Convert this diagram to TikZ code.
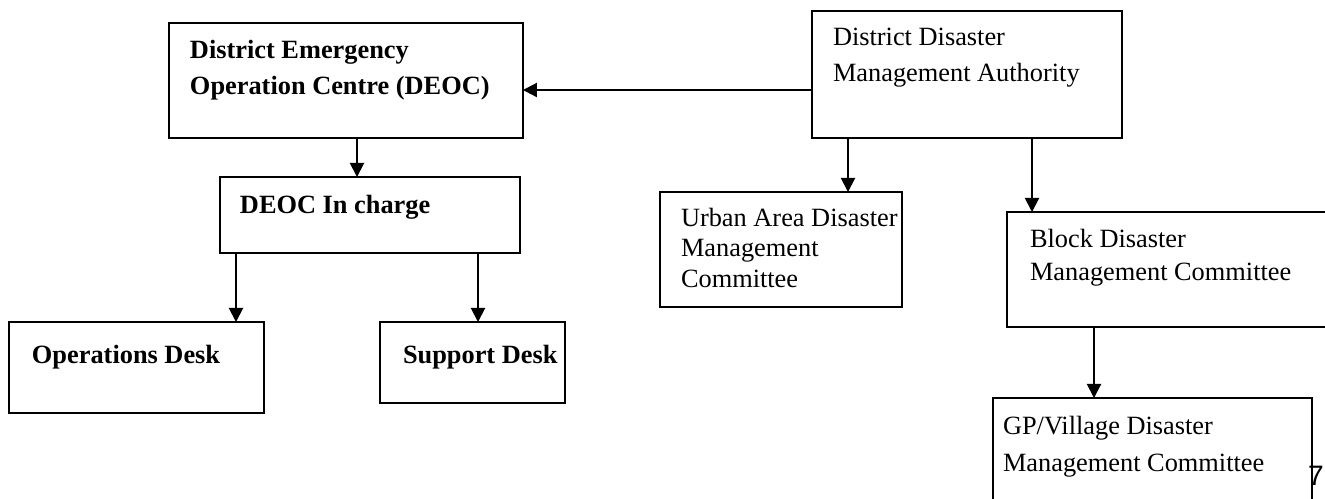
\documentclass[tikz,border=0pt]{standalone}
\usepackage{fontspec}
\setmainfont{Liberation Serif}
\newfontfamily\pagenumfont{Liberation Sans}
\usetikzlibrary{arrows.meta}

% box text: width, height, left pad, first baseline, line skip, text
\newcommand{\boxtext}[6]{\parbox[c][#2][t]{#1}{\raggedright\leftskip=#3\relax
\fontsize{15}{#5}\selectfont\rule{0pt}{#4}\ignorespaces#6\par}}

\begin{document}
\begin{tikzpicture}[x=0.02cm,y=-0.02cm,>={Triangle[length=8pt,width=8pt]},
line width=1.1pt,
chart box/.style={rectangle,draw,anchor=north west,inner sep=0pt,outer sep=0pt}]
\useasboundingbox (0,0) rectangle (1325,498);
\node[chart box] (deoc) at (169,23)
  {\boxtext{7.08cm}{2.3cm}{0.42cm}{0.72cm}{0.72cm}{\bfseries District Emergency\\ Operation Centre (DEOC)}};
\node[chart box] (ddma) at (812,11)
  {\boxtext{6.2cm}{2.54cm}{0.42cm}{0.68cm}{0.74cm}{District Disaster\\ Management Authority}};
\node[chart box] (incharge) at (220,177)
  {\boxtext{6.0cm}{1.52cm}{0.4cm}{0.72cm}{0.72cm}{\bfseries DEOC In charge}};
\node[chart box] (ops) at (9,322)
  {\boxtext{5.1cm}{1.82cm}{0.46cm}{0.82cm}{0.72cm}{\bfseries Operations Desk}};
\node[chart box] (support) at (380,322)
  {\boxtext{3.7cm}{1.62cm}{0.46cm}{0.82cm}{0.72cm}{\bfseries Support Desk}};
\node[chart box] (urban) at (660,192)
  {\boxtext{4.84cm}{2.3cm}{0.42cm}{0.68cm}{0.62cm}{Urban Area Disaster\\ Management\\ Committee}};
\node[chart box] (block) at (1007,212)
  {\boxtext{6.6cm}{2.3cm}{0.46cm}{0.7cm}{0.68cm}{Block Disaster\\ Management Committee}};
\node[chart box] (gp) at (993,398)
  {\boxtext{6.38cm}{2.2cm}{0.2cm}{0.72cm}{0.76cm}{GP/Village Disaster\\ Management Committee}};
\node[inner sep=0pt,font=\pagenumfont\fontsize{16}{16}\selectfont] (pagenum) at (1316,476) {7};

\draw[->] (ddma.west |- 0,90) -- (deoc.east |- 0,90);
\draw[->] (357,0 |- deoc.south) -- (357,0 |- incharge.north);
\draw[->] (236,0 |- incharge.south) -- (236,0 |- ops.north);
\draw[->] (478,0 |- incharge.south) -- (478,0 |- support.north);
\draw[->] (848,0 |- ddma.south) -- (848,0 |- urban.north);
\draw[->] (1032,0 |- ddma.south) -- (1032,0 |- block.north);
\draw[->] (1094,0 |- block.south) -- (1094,0 |- gp.north);
\end{tikzpicture}
\end{document}
